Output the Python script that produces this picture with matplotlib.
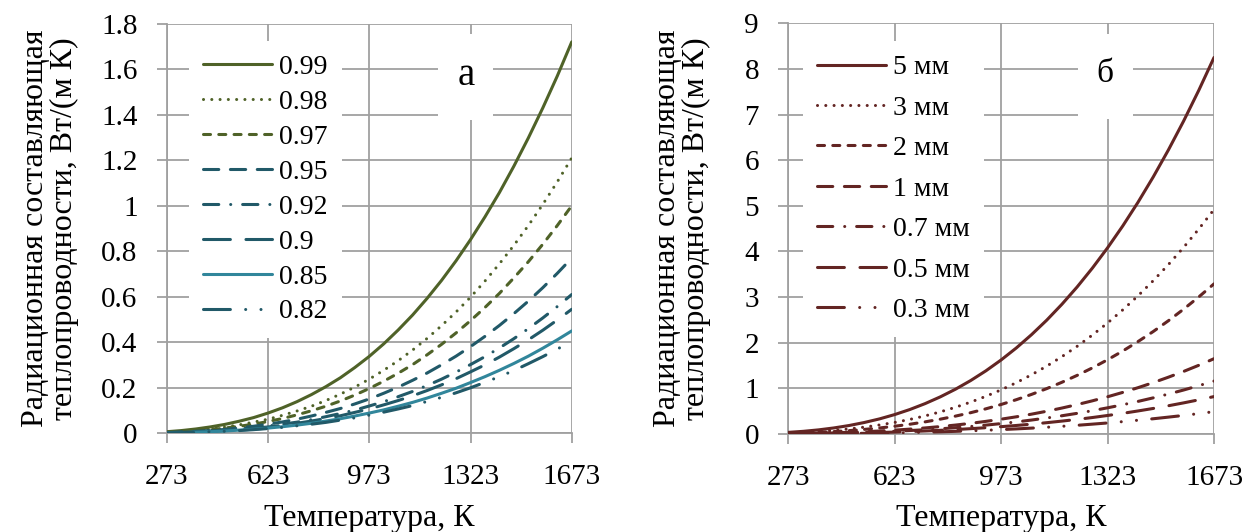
import matplotlib
matplotlib.use("Agg")
import matplotlib.pyplot as plt
from matplotlib.patches import Rectangle

plt.rcParams['font.family'] = ['Liberation Serif', 'DejaVu Serif']

# ---------------- data ----------------
temps = [273, 323, 373, 423, 473, 523, 573, 623, 673, 723, 773, 823, 873, 923, 973,
         1023, 1073, 1123, 1173, 1223, 1273, 1323, 1373, 1423, 1473, 1523, 1573, 1623, 1673]
xticks = [273, 623, 973, 1323, 1673]

labels_a = ["0.99", "0.98", "0.97", "0.95", "0.92", "0.9", "0.85", "0.82"]
k_099 = [0.007, 0.012, 0.019, 0.028, 0.039, 0.053, 0.069, 0.089, 0.112, 0.139, 0.170, 0.205, 0.244, 0.289, 0.338,
         0.393, 0.454, 0.520, 0.593, 0.672, 0.758, 0.851, 0.951, 1.058, 1.174, 1.298, 1.430, 1.570, 1.720]
k_098 = [0.005, 0.009, 0.013, 0.020, 0.027, 0.037, 0.049, 0.062, 0.079, 0.098, 0.119, 0.144, 0.172, 0.203, 0.238,
         0.277, 0.319, 0.366, 0.417, 0.473, 0.533, 0.598, 0.669, 0.745, 0.826, 0.913, 1.006, 1.105, 1.210]
k_097 = [0.004, 0.007, 0.011, 0.016, 0.023, 0.031, 0.040, 0.052, 0.065, 0.081, 0.099, 0.119, 0.142, 0.168, 0.197,
         0.229, 0.264, 0.302, 0.345, 0.391, 0.441, 0.495, 0.553, 0.615, 0.683, 0.754, 0.831, 0.913, 1.000]
k_095 = [0.003, 0.006, 0.009, 0.012, 0.017, 0.024, 0.031, 0.040, 0.050, 0.062, 0.076, 0.092, 0.109, 0.129, 0.151,
         0.176, 0.203, 0.233, 0.265, 0.301, 0.339, 0.381, 0.426, 0.474, 0.526, 0.581, 0.640, 0.703, 0.770]
k_092 = [0.003, 0.004, 0.007, 0.010, 0.014, 0.019, 0.025, 0.032, 0.040, 0.049, 0.060, 0.073, 0.087, 0.102, 0.120,
         0.139, 0.161, 0.184, 0.210, 0.238, 0.269, 0.302, 0.337, 0.375, 0.416, 0.460, 0.507, 0.557, 0.610]
k_090 = [0.002, 0.004, 0.006, 0.009, 0.012, 0.017, 0.022, 0.028, 0.035, 0.044, 0.054, 0.065, 0.077, 0.092, 0.107,
         0.125, 0.144, 0.165, 0.188, 0.213, 0.240, 0.270, 0.301, 0.335, 0.372, 0.411, 0.453, 0.498, 0.545]
k_085 = [0.002, 0.003, 0.005, 0.007, 0.010, 0.014, 0.018, 0.023, 0.029, 0.036, 0.044, 0.054, 0.064, 0.076, 0.089,
         0.103, 0.119, 0.136, 0.155, 0.176, 0.198, 0.223, 0.249, 0.277, 0.307, 0.339, 0.374, 0.411, 0.450]
k_082 = [0.002, 0.003, 0.004, 0.007, 0.009, 0.012, 0.016, 0.021, 0.026, 0.033, 0.040, 0.048, 0.058, 0.068, 0.080,
         0.093, 0.107, 0.122, 0.140, 0.158, 0.178, 0.200, 0.224, 0.249, 0.276, 0.306, 0.337, 0.370, 0.405]
series_a = [k_099, k_098, k_097, k_095, k_092, k_090, k_085, k_082]

labels_b = ["5 мм", "3 мм", "2 мм", "1 мм", "0.7 мм", "0.5 мм", "0.3 мм"]
d_5 = [0.036, 0.059, 0.091, 0.133, 0.186, 0.252, 0.331, 0.426, 0.537, 0.666, 0.814, 0.982, 1.172, 1.385, 1.623,
       1.886, 2.177, 2.495, 2.844, 3.223, 3.635, 4.080, 4.560, 5.077, 5.631, 6.224, 6.857, 7.532, 8.250]
d_3 = [0.021, 0.035, 0.055, 0.080, 0.111, 0.150, 0.198, 0.254, 0.320, 0.397, 0.485, 0.586, 0.699, 0.826, 0.968,
       1.125, 1.298, 1.488, 1.696, 1.922, 2.168, 2.433, 2.720, 3.028, 3.358, 3.712, 4.089, 4.492, 4.920]
d_2 = [0.014, 0.024, 0.036, 0.053, 0.074, 0.101, 0.132, 0.170, 0.214, 0.266, 0.325, 0.392, 0.467, 0.552, 0.647,
       0.752, 0.868, 0.995, 1.134, 1.285, 1.449, 1.627, 1.819, 2.025, 2.245, 2.482, 2.735, 3.004, 3.290]
d_1 = [0.007, 0.012, 0.018, 0.027, 0.037, 0.050, 0.066, 0.085, 0.107, 0.133, 0.163, 0.196, 0.234, 0.277, 0.325,
       0.377, 0.435, 0.499, 0.569, 0.645, 0.727, 0.816, 0.912, 1.015, 1.126, 1.245, 1.371, 1.506, 1.650]
d_07 = [0.005, 0.008, 0.013, 0.019, 0.026, 0.035, 0.047, 0.060, 0.076, 0.094, 0.114, 0.138, 0.165, 0.195, 0.228,
        0.265, 0.306, 0.351, 0.400, 0.453, 0.511, 0.574, 0.641, 0.714, 0.792, 0.875, 0.964, 1.059, 1.160]
d_05 = [0.004, 0.006, 0.009, 0.013, 0.019, 0.025, 0.033, 0.042, 0.053, 0.066, 0.081, 0.098, 0.117, 0.138, 0.161,
        0.187, 0.216, 0.248, 0.283, 0.320, 0.361, 0.406, 0.453, 0.505, 0.560, 0.619, 0.682, 0.749, 0.820]
d_03 = [0.002, 0.004, 0.005, 0.008, 0.011, 0.015, 0.020, 0.025, 0.032, 0.040, 0.048, 0.058, 0.070, 0.082, 0.096,
        0.112, 0.129, 0.148, 0.169, 0.191, 0.216, 0.242, 0.271, 0.302, 0.334, 0.370, 0.407, 0.447, 0.490]
series_b = [d_5, d_3, d_2, d_1, d_07, d_05, d_03]

# ---------------- styles ----------------
OLIVE = "#4F6228"
TEAL = "#215968"
CYAN = "#31869B"
RED = "#632523"
GRID = "#A0A0A0"

solid = None
dot = (0, (0.01, 2.7))
sdash = (0, (2.3, 2.7))
dash = (0, (5.0, 3.8))
dashdot = (0, (5.0, 3.9, 0.01, 3.9))
ldash = (0, (8.8, 5.1))
ldashdotdot = (0, (8.8, 5.0, 0.01, 5.0, 0.01, 5.0))

styles_a = [(OLIVE, solid), (OLIVE, dot), (OLIVE, sdash), (TEAL, dash),
            (TEAL, dashdot), (TEAL, ldash), (CYAN, solid), (TEAL, ldashdotdot)]
styles_b = [(RED, solid), (RED, dot), (RED, sdash), (RED, dash),
            (RED, dashdot), (RED, ldash), (RED, ldashdotdot)]

LW = 2.2
TICK_FS = 21
LAB_FS = 23
LEG_FS = 20

fig = plt.figure(figsize=(12.5, 5.32), dpi=100)
ax1 = fig.add_axes([0.1334, 0.1855, 0.324, 0.770])
ax2 = fig.add_axes([0.6306, 0.1842, 0.3406, 0.772])


def style_axes(ax, ymax, ystep, ylabelpad):
    ax.set_xlim(273, 1673)
    ax.set_ylim(0, ymax)
    ax.set_xticks(xticks)
    yt = [round(i * ystep, 2) for i in range(int(round(ymax / ystep)) + 1)]
    ax.set_yticks(yt)
    ax.set_yticklabels([("%g" % v) for v in yt])
    ax.grid(True, color=GRID, lw=1.3, zorder=0)
    ax.set_axisbelow(True)
    for s in ["top", "right"]:
        ax.spines[s].set_visible(False)
    for s in ["left", "bottom"]:
        ax.spines[s].set_color(GRID)
        ax.spines[s].set_linewidth(1.3)
    ax.tick_params(axis="both", colors=GRID, width=1.3, length=7,
                   labelsize=TICK_FS, labelcolor="black")
    ax.tick_params(axis="x", pad=15)
    ax.tick_params(axis="y", pad=14)
    ax.set_xlabel("Температура, К", fontsize=LAB_FS, labelpad=10)
    ax.set_ylabel("Радиационная составляющая\nтеплопроводности, Вт/(м К)",
                  fontsize=LAB_FS, linespacing=1.0, labelpad=ylabelpad)


def draw(ax, series, labels, styles):
    for ys, lab, (c, ls) in zip(series, labels, styles):
        kw = dict(color=c, lw=LW, label=lab, solid_capstyle="round",
                  dash_capstyle="round", zorder=3)
        if ls is not None:
            kw["linestyle"] = ls
        ax.plot(temps, ys, **kw)


style_axes(ax1, 1.8, 0.2, 16)
draw(ax1, series_a, labels_a, styles_a)
style_axes(ax2, 9, 1, 24)
draw(ax2, series_b, labels_b, styles_b)

leg1 = ax1.legend(loc="upper left", bbox_to_anchor=(0.055, 0.958), fontsize=LEG_FS,
                  frameon=True, facecolor="white", edgecolor="none", framealpha=1,
                  fancybox=False, borderpad=0.5, borderaxespad=0,
                  handlelength=2.5, handletextpad=0.25, labelspacing=0.34)
leg2 = ax2.legend(loc="upper left", bbox_to_anchor=(0.034, 0.957), fontsize=LEG_FS,
                  frameon=True, facecolor="white", edgecolor="none", framealpha=1,
                  fancybox=False, borderpad=0.5, borderaxespad=0,
                  handlelength=2.5, handletextpad=0.25, labelspacing=0.54)
leg1.set_zorder(5)
leg2.set_zorder(5)

ax1.add_patch(Rectangle((0.670, 0.765), 0.136, 0.21, transform=ax1.transAxes,
                        facecolor="white", edgecolor="none", zorder=1))
ax1.text(0.739, 0.873, "а", transform=ax1.transAxes, fontsize=28,
         ha="center", va="center", zorder=2)
ax2.add_patch(Rectangle((0.680, 0.767), 0.130, 0.208, transform=ax2.transAxes,
                        facecolor="white", edgecolor="none", zorder=1))
ax2.text(0.744, 0.876, "б", transform=ax2.transAxes, fontsize=24,
         ha="center", va="center", zorder=2)

fig.savefig("out.png", dpi=100)
